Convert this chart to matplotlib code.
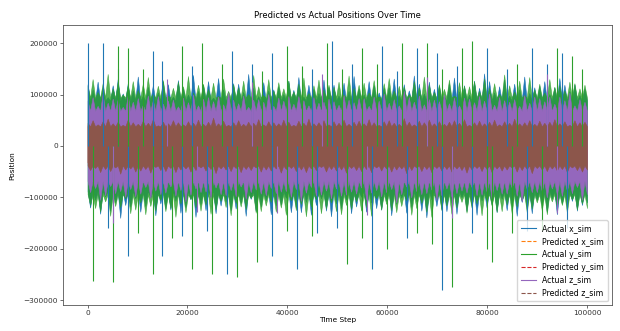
import numpy as np
import matplotlib
matplotlib.use("Agg")
import matplotlib.pyplot as plt
from matplotlib.lines import Line2D

# values, in thousands
# each trace swings between an upper and a lower value in every block of 1000 steps
actual_x_up = [120, 110, 125, 115, 95, 118, 130, 102, 122, 108,
               135, 98, 115, 118, 104, 125, 120, 96, 128, 112,
               100, 138, 107, 119, 126, 94, 132, 110, 99, 122,
               121, 105, 140, 113, 97, 124, 108, 110, 116, 101,
               127, 109, 134, 96, 119, 111, 103, 129, 115, 119,
               98, 123, 107, 136, 112, 100, 126, 118, 104, 113,
               114, 131, 99, 120, 108, 137, 121, 102, 125, 111,
               117, 97, 122, 133, 106, 118, 100, 127, 113, 141,
               126, 104, 116, 129, 98, 121, 110, 135, 103, 114,
               117, 126, 101, 114, 132, 119, 107, 120, 99, 112]
actual_x_lo = [-120, -105, -132, -98, -126, -110, -140, -115, -118, -102,
               -128, -117, -100, -135, -112, -122, -124, -107, -130, -119,
               -104, -138, -113, -125, -99, -131, -116, -108, -125, -122,
               -111, -136, -103, -127, -118, -106, -133, -116, -114, -101,
               -129, -120, -129, -109, -134, -115, -102, -126, -137, -112,
               -121, -105, -131, -118, -99, -128, -110, -121, -124, -107,
               -135, -113, -101, -130, -119, -108, -126, -139, -104, -117,
               -123, -127, -111, -132, -100, -127, -116, -134, -106, -120,
               -114, -129, -103, -125, -118, -136, -109, -122, -131, -105,
               -117, -128, -102, -133, -112, -121, -107, -126, -115, -110]

actual_y_up = [118, 130, 105, 122, 140, 112, 124, 100, 118, 126,
               109, 121, 134, 102, 117, 128, 98, 113, 125, 116,
               136, 104, 119, 121, 111, 123, 97, 131, 107, 120,
               114, 127, 101, 138, 116, 99, 130, 108, 124, 112,
               127, 106, 121, 133, 103, 118, 129, 110, 119, 115,
               125, 100, 137, 113, 119, 123, 104, 128, 96, 122,
               132, 108, 117, 115, 101, 126, 114, 135, 120, 105,
               120, 111, 129, 98, 124, 117, 116, 126, 107, 131,
               113, 122, 102, 139, 118, 106, 127, 99, 134, 110,
               121, 104, 130, 115, 118, 108, 125, 122, 112, 119]
actual_y_lo = [-115, -121, -128, -108, -136, -117, -119, -102, -131, -124,
               -110, -133, -117, -126, -105, -127, -121, -138, -112, -129,
               -103, -119, -126, -114, -132, -124, -107, -119, -135, -111,
               -118, -123, -101, -130, -127, -116, -109, -128, -120, -134,
               -106, -125, -113, -137, -118, -104, -131, -122, -110, -127,
               -133, -115, -122, -108, -126, -119, -136, -102, -124, -113,
               -125, -129, -117, -106, -134, -121, -111, -128, -138, -103,
               -125, -116, -132, -120, -109, -130, -120, -112, -135, -107,
               -116, -128, -127, -114, -131, -118, -105, -129, -122, -110,
               -126, -133, -108, -119, -115, -130, -104, -124, -112, -121]

actual_z_up = [88, 95, 78, 102, 84, 92, 91, 76, 99, 86,
               93, 80, 98, 89, 97, 82, 88, 90, 77, 94,
               85, 100, 79, 92, 95, 87, 96, 81, 104, 90,
               83, 98, 76, 90, 91, 86, 101, 78, 94, 88,
               97, 82, 97, 89, 79, 95, 84, 86, 92, 87,
               80, 99, 90, 85, 93, 93, 78, 96, 88, 102,
               84, 91, 79, 107, 95, 86, 98, 81, 91, 90,
               87, 100, 83, 94, 79, 94, 92, 85, 97, 88,
               102, 80, 95, 89, 86, 91, 78, 99, 84, 96,
               93, 87, 96, 82, 96, 89, 104, 79, 91, 86]
actual_z_lo = [-90, -82, -105, -96, -78, -92, -88, -99, -84, -98,
               -93, -80, -101, -87, -94, -91, -79, -97, -86, -108,
               -95, -83, -90, -89, -100, -81, -94, -96, -86, -98,
               -79, -103, -90, -85, -93, -96, -82, -92, -89, -88,
               -99, -84, -107, -91, -80, -97, -95, -87, -102, -83,
               -97, -95, -89, -93, -81, -104, -91, -86, -98, -90,
               -84, -110, -94, -79, -100, -88, -94, -92, -85, -106,
               -96, -83, -99, -92, -87, -91, -80, -96, -95, -89,
               -102, -86, -93, -93, -81, -97, -108, -84, -90, -90,
               -88, -100, -83, -95, -97, -87, -92, -80, -105, -94]

pred_x_up = [42, 38, 45, 40, 36, 44, 39, 47, 41, 37,
             43, 46, 38, 42, 40, 45, 37, 44, 39, 41,
             46, 38, 43, 40, 36, 45, 42, 39, 44, 41,
             37, 43, 40, 46, 38, 42, 45, 39, 41, 44,
             40, 37, 43, 46, 39, 42, 38, 45, 41, 40]
pred_x_lo = [-40, -44, -37, -42, -46, -39, -43, -38, -45, -41,
             -36, -42, -45, -39, -44, -40, -47, -38, -43, -41,
             -39, -45, -37, -42, -44, -40, -46, -38, -41, -43,
             -45, -39, -42, -37, -44, -41, -40, -46, -38, -43,
             -42, -45, -39, -41, -36, -44, -40, -43, -38, -42]

pred_y_up = [39, 44, 41, 37, 46, 40, 43, 38, 45, 42,
             40, 36, 44, 41, 47, 39, 42, 45, 38, 43,
             41, 46, 37, 40, 44, 42, 39, 45, 36, 43,
             44, 40, 38, 46, 41, 37, 43, 42, 45, 39,
             38, 44, 41, 40, 46, 43, 37, 42, 45, 40]
pred_y_lo = [-43, -39, -46, -41, -37, -44, -40, -45, -38, -42,
             -44, -41, -36, -43, -39, -46, -40, -42, -45, -38,
             -41, -37, -44, -42, -40, -45, -39, -43, -46, -41,
             -38, -44, -40, -42, -45, -39, -43, -37, -41, -44,
             -46, -40, -42, -38, -43, -41, -45, -39, -44, -40]

pred_z_up = [45, 50, 42, 48, 53, 44, 47, 41, 51, 46,
             43, 49, 45, 52, 40, 47, 44, 50, 46, 42,
             48, 45, 51, 43, 47, 55, 44, 49, 41, 46,
             50, 43, 47, 45, 52, 42, 48, 46, 44, 51,
             47, 41, 49, 45, 53, 44, 46, 50, 42, 48,
             45, 51, 43, 47, 49, 44, 52, 46, 41, 48,
             50, 45, 43, 54, 47, 42, 49, 46, 51, 44,
             48, 43, 47, 50, 45, 52, 41, 46, 49, 44,
             47, 51, 42, 48, 45, 53, 44, 46, 50, 43,
             49, 45, 47, 52, 44, 48, 41, 50, 46, 47]
pred_z_lo = [-47, -43, -51, -45, -49, -42, -54, -46, -44, -50,
             -48, -45, -52, -41, -47, -49, -43, -51, -46, -44,
             -50, -47, -42, -48, -45, -53, -44, -46, -49, -43,
             -51, -45, -47, -42, -50, -46, -48, -44, -52, -45,
             -43, -49, -46, -51, -44, -47, -41, -50, -45, -48,
             -46, -52, -43, -47, -49, -45, -51, -42, -48, -44,
             -50, -46, -44, -53, -47, -42, -49, -45, -51, -43,
             -48, -45, -50, -44, -47, -52, -46, -43, -49, -45,
             -51, -44, -48, -46, -42, -50, -47, -45, -53, -43,
             -46, -49, -44, -48, -45, -51, -42, -47, -50, -46]

# half-width of the solid-looking core of each trace (thousands)
core_half = [88, 32, 94, 32, 68, 38]

# isolated peaks sticking out of the band: time step (thousands), value (thousands)
actual_x_spike_t = [0, 3, 4, 6, 8, 13, 15, 15, 19, 21, 24, 28, 29, 33, 37, 37, 42, 45,
                    46, 49, 50, 53, 57, 59, 62, 64, 66, 70, 71, 74, 77, 80, 84, 88, 89,
                    92, 95, 96]
actual_x_spike_v = [200, 200, -160, 150, -215, 185, 165, -215, -175, 155, -165, -250, 185,
                    160, 180, -215, -240, 150, -170, 205, -160, 160, -240, 195, 145, -180,
                    190, 180, -280, 155, -170, 190, 150, -165, 190, 160, 180, -160]
actual_y_spike_t = [1, 5, 6, 8, 10, 11, 13, 17, 19, 21, 23, 25, 27, 30, 34, 35, 40, 40,
                    43, 45, 48, 51, 52, 55, 55, 58, 60, 63, 66, 68, 69, 71, 73, 75, 77,
                    80, 81, 85, 86, 91, 94, 97, 99]
actual_y_spike_v = [-262, -265, 195, 190, -170, 150, -250, -180, 195, -240, 200, -250, 160,
                    -255, -225, 145, 195, -165, 155, -175, 200, 150, -230, 190, -180, 160,
                    -200, 200, -170, 200, -190, 150, -275, 190, 205, -200, -225, -170, 160,
                    -165, 190, 175, 150]
actual_z_spike_t = [5, 16, 22, 33, 38, 47, 56, 68, 73, 92, 94]
actual_z_spike_v = [-150, 130, -128, 125, -130, 140, -135, 135, -140, 140, -131]

labels = ["Actual x_sim", "Predicted x_sim", "Actual y_sim",
          "Predicted y_sim", "Actual z_sim", "Predicted z_sim"]
n_steps = 100000

colors = ["C0", "C1", "C2", "C3", "C4", "C5"]
styles = ["-", "--", "-", "--", "-", "--"]
alphas = [1, 1, 0.8, 1, 1, 1]
bands = [(actual_x_up, actual_x_lo), (pred_x_up, pred_x_lo),
         (actual_y_up, actual_y_lo), (pred_y_up, pred_y_lo),
         (actual_z_up, actual_z_lo), (pred_z_up, pred_z_lo)]
spikes = {0: (actual_x_spike_t, actual_x_spike_v),
          2: (actual_y_spike_t, actual_y_spike_v),
          4: (actual_z_spike_t, actual_z_spike_v)}

fig = plt.figure(figsize=(6.2, 3.31), dpi=100)
ax = fig.add_axes([0.101, 0.078, 0.886, 0.846])

for i, ((up, lo), c) in enumerate(zip(bands, colors)):
    # dense core with the swings poking out as thin peaks on both sides
    core = core_half[i]
    top = np.empty(2 * len(up))
    top[0::2] = up
    top[1::2] = core
    bot = np.empty(2 * len(lo))
    bot[0::2] = -core
    bot[1::2] = lo
    t = np.linspace(0, n_steps, len(top))
    ax.fill_between(t, bot * 1000, top * 1000, color=c, lw=0.4, alpha=alphas[i])
    if i in spikes:
        st, sv = spikes[i]
        ax.vlines(np.array(st) * 1000, 0, np.array(sv) * 1000, color=c, lw=0.8)

ax.set_xlim(-5000, 105000)
ax.set_ylim(-310000, 235000)
ax.set_yticks([-300000, -200000, -100000, 0, 100000, 200000])
ax.set_xticks([0, 20000, 40000, 60000, 80000, 100000])
ax.tick_params(labelsize=5.3, length=2, width=0.5, pad=1.5, colors="#333333")
for s in ax.spines.values():
    s.set_linewidth(0.6)
    s.set_color("#555555")

ax.set_title("Predicted vs Actual Positions Over Time", fontsize=6, pad=5)
ax.set_xlabel("Time Step", fontsize=5.3, labelpad=1)
ax.set_ylabel("Position", fontsize=5.3, labelpad=6)

handles = [Line2D([], [], color=c, ls=s, lw=0.8) for c, s in zip(colors, styles)]
ax.legend(handles, labels, loc="lower right", fontsize=5.6, framealpha=0.8,
          borderpad=0.5, handlelength=2)

fig.savefig("out.png", dpi=100)
